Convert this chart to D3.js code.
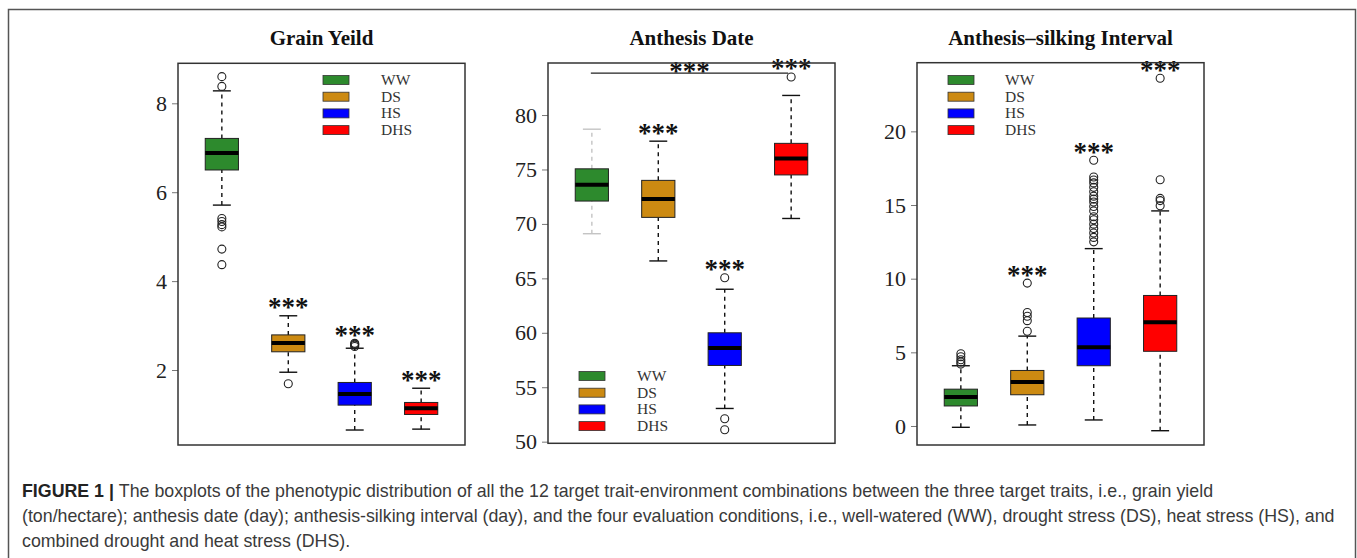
<!DOCTYPE html>
<html><head><meta charset="utf-8">
<script src="https://cdn.jsdelivr.net/npm/d3@7"></script>
<style>html,body{margin:0;padding:0;background:#fff;}svg{display:block;}</style>
</head><body>
<svg id="chart" width="1357" height="558"></svg>
<script>
// ---------- data ----------
const conditions = ["WW", "DS", "HS", "DHS"];
const conditionColors = ["#2D8A2D", "#CC8A12", "#0000FF", "#FF0000"];
const traits = ["Grain Yeild", "Anthesis Date", "Anthesis\u2013silking Interval"];

// [lower whisker, Q1, median, Q3, upper whisker] per condition
const grainYieldStats = [[5.71, 6.50, 6.88, 7.21, 8.28], [1.95, 2.41, 2.61, 2.79, 3.22], [0.65, 1.21, 1.46, 1.72, 2.49], [0.67, 1.00, 1.14, 1.27, 1.59]];
const grainYieldOutliers = [[8.60, 8.38, 5.41, 5.34, 5.27, 5.22, 4.72, 4.37], [1.69], [2.53, 2.56, 2.58, 2.60], []];
const anthesisStats = [[69.1, 72.1, 73.6, 75.06, 78.7], [66.6, 70.6, 72.3, 74.0, 77.6], [53.05, 57.0, 58.6, 60.0, 64.0], [70.5, 74.5, 76.0, 77.4, 81.8]];
const anthesisOutliers = [[], [], [65.05, 52.1, 51.1], [83.5]];
const asiStats = [[-0.09, 1.36, 1.96, 2.50, 4.09], [0.07, 2.12, 2.98, 3.77, 6.10], [0.41, 4.09, 5.34, 7.33, 12.04], [-0.32, 5.07, 7.05, 8.86, 14.6]];
const asiOutliers = [[4.2, 4.35, 4.5, 4.7, 4.9], [6.43, 7.15, 7.45, 7.7, 9.7],
  [12.5, 12.8, 13.1, 13.4, 13.7, 14.0, 14.2, 14.6, 14.9, 15.2, 15.4, 15.6, 15.9, 16.2, 16.5, 16.7, 16.9, 18.04],
  [14.95, 15.3, 15.45, 16.71, 23.6]];
const significance = [[false, true, true, true], [false, true, true, true], [false, true, true, true]];
const grainYieldTicks = [2, 4, 6, 8];
const anthesisTicks = [50, 55, 60, 65, 70, 75, 80];
const asiTicks = [0, 5, 10, 15, 20];
const yDomains = [[0.313, 8.9], [49.85, 84.78], [-1.29, 24.66]];
const anthesisBracket = {from: 0, to: 3, value: 83.85};
const captionLines = [
  ["FIGURE 1 | ", "The boxplots of the phenotypic distribution of all the 12 target trait-environment combinations between the three target traits, i.e., grain yield"],
  ["", "(ton/hectare); anthesis date (day); anthesis-silking interval (day), and the four evaluation conditions, i.e., well-watered (WW), drought stress (DS), heat stress (HS), and"],
  ["", "combined drought and heat stress (DHS)."]
];

// ---------- layout ----------
const svg = d3.select("#chart");
svg.append("rect").attr("x", 8.5).attr("y", 9.5).attr("width", 1347).attr("height", 600)
  .attr("fill", "none").attr("stroke", "#555").attr("stroke-width", 1.5);

const panels = [
  {stats: grainYieldStats, outliers: grainYieldOutliers, ticks: grainYieldTicks, left: 178, right: 465, top: 63.3, bottom: 445, legend: {x: 323, y: 80, lx: 381}},
  {stats: anthesisStats, outliers: anthesisOutliers, ticks: anthesisTicks, left: 548, right: 835, top: 63, bottom: 443.3, legend: {x: 579, y: 376, lx: 637}},
  {stats: asiStats, outliers: asiOutliers, ticks: asiTicks, left: 917, right: 1204, top: 62.7, bottom: 445, legend: {x: 948, y: 80, lx: 1005}}
];
const serif = "'Liberation Serif','Times New Roman',serif";

panels.forEach((p, pi) => {
  const g = svg.append("g");
  const x = d3.scaleLinear().domain([0.34, 4.66]).range([p.left, p.right]);
  const y = d3.scaleLinear().domain(yDomains[pi]).range([p.bottom, p.top]);
  const unit = x(1) - x(0);
  const halfBox = unit * 0.25, halfCap = unit * 0.135;

  // title
  g.append("text").attr("x", (p.left + p.right) / 2).attr("y", 45)
    .attr("text-anchor", "middle").attr("font-family", serif).attr("font-weight", "bold")
    .attr("font-size", 21).attr("fill", "#111").text(traits[pi]);

  // axis
  const ax = g.append("g").attr("transform", `translate(${p.left},0)`)
    .call(d3.axisLeft(y).tickValues(p.ticks).tickSize(6).tickPadding(5).tickFormat(d3.format("d")));
  ax.select(".domain").remove();
  ax.selectAll(".tick line").attr("stroke", "#777");
  ax.selectAll(".tick text").attr("font-family", serif).attr("font-size", 22).attr("fill", "#222");

  // boxes
  conditions.forEach((c, i) => {
    const s = p.stats[i];
    const cx = x(i + 1);
    const whiskColor = (pi === 1 && i === 0) ? "#c4c4c4" : "#111";
    [[s[0], s[1]], [s[3], s[4]]].forEach(([a, b]) => {
      g.append("line").attr("x1", cx).attr("x2", cx).attr("y1", y(a)).attr("y2", y(b))
        .attr("stroke", whiskColor).attr("stroke-width", 1.4).attr("stroke-dasharray", "4,4");
    });
    [s[0], s[4]].forEach(v => {
      g.append("line").attr("x1", cx - halfCap).attr("x2", cx + halfCap).attr("y1", y(v)).attr("y2", y(v))
        .attr("stroke", whiskColor).attr("stroke-width", 1.4);
    });
    g.append("rect").attr("x", cx - halfBox).attr("width", 2 * halfBox)
      .attr("y", y(s[3])).attr("height", y(s[1]) - y(s[3]))
      .attr("fill", conditionColors[i]).attr("stroke", "#222").attr("stroke-width", 1);
    g.append("line").attr("x1", cx - halfBox).attr("x2", cx + halfBox).attr("y1", y(s[2])).attr("y2", y(s[2]))
      .attr("stroke", "#000").attr("stroke-width", 4);
    p.outliers[i].forEach(v => {
      g.append("circle").attr("cx", cx).attr("cy", y(v)).attr("r", 4)
        .attr("fill", "none").attr("stroke", "#222").attr("stroke-width", 1.1);
    });
    if (significance[pi][i]) {
      const top = d3.max([s[4], ...p.outliers[i]]);
      g.append("text").attr("x", cx).attr("y", y(top) - 12 + 12.5)
        .attr("text-anchor", "middle").attr("font-family", serif).attr("font-size", 27)
        .attr("font-weight", "bold").attr("fill", "#111").text("***");
    }
  });

  if (pi === 1) {
    const by = y(anthesisBracket.value);
    g.append("line").attr("x1", x(anthesisBracket.from + 1) - 1).attr("x2", x(anthesisBracket.to + 1) - 3)
      .attr("y1", by).attr("y2", by).attr("stroke", "#222").attr("stroke-width", 1.2);
    g.append("text").attr("x", (x(anthesisBracket.from + 1) + x(anthesisBracket.to + 1)) / 2 - 2).attr("y", by - 6 + 12.5)
      .attr("text-anchor", "middle").attr("font-family", serif).attr("font-size", 27)
      .attr("font-weight", "bold").attr("fill", "#111").text("***");
  }

  // frame
  g.append("rect").attr("x", p.left).attr("y", p.top).attr("width", p.right - p.left).attr("height", p.bottom - p.top)
    .attr("fill", "none").attr("stroke", "#333").attr("stroke-width", 1.5);

  // legend
  conditions.forEach((c, i) => {
    const ry = p.legend.y + i * 16.7;
    g.append("rect").attr("x", p.legend.x).attr("y", ry - 4.5).attr("width", 26).attr("height", 9)
      .attr("fill", conditionColors[i]).attr("stroke", "#333").attr("stroke-width", 0.8);
    g.append("text").attr("x", p.legend.lx).attr("y", ry + 5).attr("font-family", serif)
      .attr("font-size", 15.5).attr("fill", "#333").text(c);
  });
});

// caption
captionLines.forEach((ln, i) => {
  const t = svg.append("text").attr("x", 22).attr("y", 497 + i * 25)
    .attr("font-family", "'Liberation Sans',Arial,sans-serif").attr("font-size", 17.8).attr("fill", "#3a3a3a");
  if (ln[0]) t.append("tspan").attr("font-weight", "bold").attr("fill", "#222").text(ln[0]);
  t.append("tspan").text(ln[1]);
});
</script>
</body></html>
